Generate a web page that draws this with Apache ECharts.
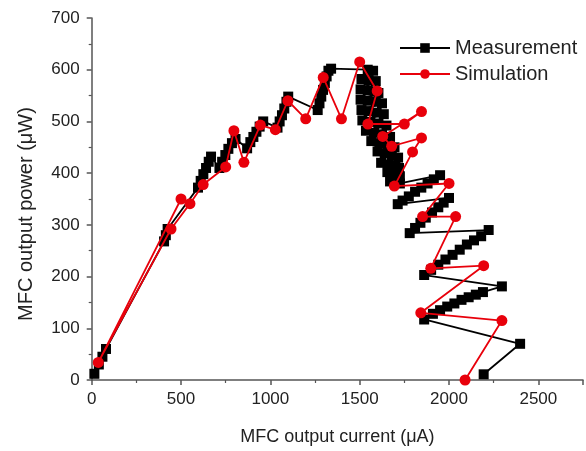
<!DOCTYPE html>
<html>
<head>
<meta charset="utf-8">
<script src="https://cdn.jsdelivr.net/npm/echarts@6/dist/echarts.min.js"></script>
<style>html,body{margin:0;padding:0;background:#fff}#c{width:586px;height:451px}</style>
</head>
<body>
<div id="c"></div>
<script>
// Measurement: [current uA, power uW]
const measurement = [
  [15,12],[40,30],[60,45],[80,60],
  [405,268],[415,280],[425,292],
  [595,372],[610,385],[625,398],[640,410],[655,422],[668,432],
  [715,410],[730,422],[748,435],[765,447],[785,458],[805,466],
  [870,448],[888,460],[905,470],[922,480],[940,490],[960,500],
  [1040,488],[1052,500],[1065,512],[1078,525],[1090,538],[1100,548],
  [1265,522],[1275,535],[1285,548],[1295,561],[1305,574],[1315,587],[1325,598],[1340,602],
  [1545,600],[1575,598],
  [1510,582],[1550,580],[1590,578],
  [1505,562],[1545,560],[1585,558],[1605,555],
  [1505,542],[1545,540],[1590,538],[1625,535],
  [1510,522],[1550,520],[1595,517],[1635,514],
  [1515,502],[1560,499],[1605,496],[1650,492],
  [1535,482],[1580,478],[1625,475],[1670,470],
  [1565,462],[1610,458],[1655,454],[1695,450],
  [1600,442],[1640,438],[1680,434],[1715,430],
  [1620,420],[1660,417],[1700,414],[1720,410],
  [1655,402],[1690,398],[1725,394],
  [1670,384],[1700,382],[1725,380],
  [1950,396],[1915,388],[1880,380],[1845,372],[1810,364],[1775,355],[1740,347],[1713,340],
  [2000,352],[1970,343],[1940,334],[1905,324],[1870,314],[1840,304],[1810,294],[1780,284],
  [2222,290],[2180,278],[2140,270],[2100,262],[2060,252],[2020,242],[1980,233],[1940,223],[1900,213],[1861,203],
  [2296,181],[2190,170],[2150,165],[2110,160],[2070,155],[2030,148],[1990,142],[1950,135],[1910,128],[1861,117],
  [2398,70],[2194,11]
];
const simulation = [
  [500,350],[37,34],[444,292],[550,341],[624,378],[750,412],[796,482],[852,421],
  [944,493],[1028,484],[1098,540],[1198,505],[1296,585],[1398,505],[1500,615],
  [1598,559],[1546,495],[1750,495],[1846,519],[1629,471],[1679,452],[1846,468],
  [1796,441],[1694,375],[2000,380],[1852,316],[2037,316],[1898,216],[2194,221],
  [1842,130],[2296,115],[2090,0]
];
const xTicks = [0,500,1000,1500,2000,2500];
const yTicks = [0,100,200,300,400,500,600,700];

const chart = echarts.init(document.getElementById('c'));
const font = 'Liberation Sans, Arial, sans-serif';
const axisCol = '#555';
chart.setOption({
  animation:false,
  grid:{left:91.7,right:-0.7,top:18,bottom:68.5,containLabel:false},
  legend:{
    left:394, top:33, orient:'vertical', itemWidth:50, itemHeight:12, itemGap:6,
    textStyle:{fontFamily:font,fontSize:20,color:'#222'},
    data:['Measurement','Simulation']
  },
  xAxis:{
    type:'value', min:0, max:2750, interval:500,
    name:'MFC output current (μA)', nameLocation:'middle', nameGap:48,
    nameTextStyle:{fontFamily:font,fontSize:18,color:'#222'},
    axisLine:{lineStyle:{color:axisCol,width:1.5}},
    axisTick:{show:true,inside:false,length:5,lineStyle:{color:axisCol,width:1.5}},
    minorTick:{show:true,splitNumber:2,length:3,lineStyle:{color:axisCol,width:1.2}},
    splitLine:{show:false},
    axisLabel:{fontFamily:font,fontSize:17,color:'#222',margin:11,
      formatter:v=>xTicks.includes(v)?String(v):''}
  },
  yAxis:{
    type:'value', min:0, max:700, interval:100,
    name:'MFC output power (μW)', nameLocation:'middle', nameGap:55,
    nameTextStyle:{fontFamily:font,fontSize:20,color:'#222',padding:[0,30,0,0]},
    axisLine:{show:true,lineStyle:{color:axisCol,width:1.5}},
    axisTick:{show:true,inside:false,length:5,lineStyle:{color:axisCol,width:1.5}},
    minorTick:{show:true,splitNumber:2,length:3,lineStyle:{color:axisCol,width:1.2}},
    splitLine:{show:false},
    axisLabel:{fontFamily:font,fontSize:17,color:'#222',margin:12,
      formatter:v=>yTicks.includes(v)?String(v):''}
  },
  series:[
    {name:'Measurement',type:'line',data:measurement,symbol:'rect',symbolSize:10,
     lineStyle:{color:'#000',width:1.8},itemStyle:{color:'#000'},z:2},
    {name:'Simulation',type:'line',data:simulation,symbol:'circle',symbolSize:11,
     lineStyle:{color:'#e8000b',width:1.8},itemStyle:{color:'#e8000b'},z:3}
  ]
});
</script>
</body>
</html>
